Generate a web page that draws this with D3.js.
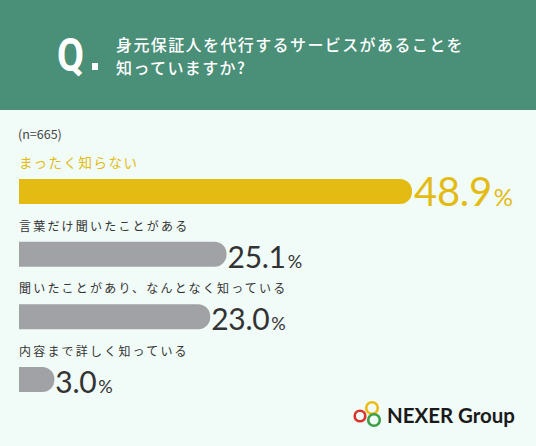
<!DOCTYPE html>
<html>
<head>
<meta charset="utf-8">
<script src="https://cdn.jsdelivr.net/npm/d3@7"></script>
<style>
  body { margin: 0; background: #f1fbf8; }
  svg { display: block; }
</style>
</head>
<body>
<div id="chart"></div>
<script>
// answers and share of respondents (%)
var categories = ["まったく知らない", "言葉だけ聞いたことがある", "聞いたことがあり、なんとなく知っている", "内容まで詳しく知っている"];
var values = [48.9, 25.1, 23.0, 3.0];
var valueLabels = ["48.9", "25.1", "23.0", "3.0"];
var questionLines = ["身元保証人を代行するサービスがあることを", "知っていますか?"];
var sampleLabel = "(n=665)";

var W = 536, H = 446;
var yellow = "#e3bb12", grey = "#a1a2a6", dark = "#333";

var svg = d3.select("#chart").append("svg")
  .attr("width", W).attr("height", H);

svg.append("rect").attr("width", W).attr("height", H).attr("fill", "#f1fbf8");

// header band
svg.append("rect").attr("width", W).attr("height", 110).attr("fill", "#4a8f78");

svg.append("text")
  .attr("transform", "translate(57,71) scale(0.85,1)")
  .attr("font-family", "Roboto, sans-serif").attr("font-weight", 700)
  .attr("font-size", 46).attr("fill", "#fff").text("Q");
svg.append("rect").attr("x", 92).attr("y", 63).attr("width", 6).attr("height", 7).attr("fill", "#fff");

svg.selectAll("text.q").data(questionLines).enter().append("text")
  .attr("class", "q")
  .attr("x", 116).attr("y", (d, i) => 51 + i * 23)
  .attr("font-family", "'Noto Sans CJK JP', sans-serif").attr("font-weight", 500)
  .attr("font-size", 16).attr("letter-spacing", 1.4).attr("fill", "#fff")
  .text(d => d);

svg.append("text").attr("x", 18).attr("y", 139)
  .attr("font-family", "'Noto Sans CJK JP', sans-serif")
  .attr("font-size", 12.5).attr("fill", "#444").text(sampleLabel);

// scales
var x = d3.scaleLinear().domain([0, 48.9]).range([12, 393]);
var y = d3.scaleBand().domain(categories).range([179, 392]).paddingInner(0.6).paddingOuter(0);
var r = 12;

function barPath(w, h) {
  // square left side, rounded right end
  var rr = Math.min(r, w / 2, h / 2);
  return "M0,0H" + (w - rr) + "A" + rr + "," + rr + " 0 0 1 " + w + "," + rr +
    "V" + (h - rr) + "A" + rr + "," + rr + " 0 0 1 " + (w - rr) + "," + h + "H0Z";
}

var rows = svg.selectAll("g.row").data(categories).enter().append("g")
  .attr("class", "row")
  .attr("transform", d => "translate(19," + y(d) + ")");

rows.append("text")
  .attr("x", 0).attr("y", -11)
  .attr("font-family", "'Noto Sans CJK JP', sans-serif")
  .attr("font-size", (d, i) => i === 0 ? 13.5 : 12)
  .attr("letter-spacing", (d, i) => i === 0 ? 1.5 : 2.2)
  .attr("fill", (d, i) => i === 0 ? yellow : dark)
  .text(d => d);

rows.append("path")
  .attr("d", (d, i) => barPath(x(values[i]), y.bandwidth()))
  .attr("fill", (d, i) => i === 0 ? yellow : grey);

var vt = rows.append("text")
  .attr("x", (d, i) => x(values[i]) + (i === 0 ? 2 : 1))
  .attr("y", (d, i) => i === 0 ? 27 : 26)
  .attr("font-family", "Lato, sans-serif")
  .attr("fill", (d, i) => i === 0 ? yellow : dark);
vt.append("tspan")
  .attr("font-size", (d, i) => i === 0 ? 40 : 30)
  .attr("letter-spacing", -0.3)
  .text((d, i) => valueLabels[i]);
vt.append("tspan")
  .attr("dx", 2)
  .attr("font-size", (d, i) => i === 0 ? 24 : 18)
  .text("%");

// logo
var logo = svg.append("g");
logo.selectAll("circle").data([["#d9342b", 360, 416, 5.3], ["#eebb15", 372, 408, 5.8], ["#3aa046", 374, 420, 5.8]])
  .enter().append("circle")
  .attr("cx", d => d[1]).attr("cy", d => d[2]).attr("r", d => d[3])
  .attr("fill", "none").attr("stroke", d => d[0]).attr("stroke-width", 2.6);
logo.append("text").attr("x", 387).attr("y", 423)
  .attr("font-family", "Lato, sans-serif").attr("font-weight", 700)
  .attr("font-size", 21).attr("fill", "#1a1a1a")
  .attr("textLength", 128).attr("lengthAdjust", "spacingAndGlyphs")
  .text("NEXER Group");
</script>
</body>
</html>
